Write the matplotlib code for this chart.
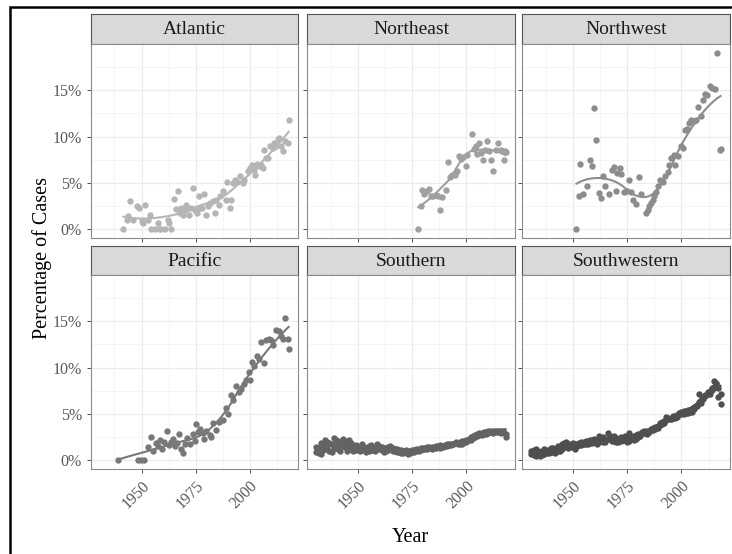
import numpy as np
import matplotlib.pyplot as plt
from matplotlib.patches import Rectangle

plt.rcParams['font.family'] = ['Liberation Serif', 'DejaVu Serif']

# yearly share of cases by region (%)
atlantic_year = [1941.6, 1943.1, 1943.9, 1944.9, 1946.2, 1947.7, 1948.9, 1950.0, 1950.8, 1951.8,
                 1953.1, 1953.8, 1954.6, 1956.1, 1957.7, 1957.9, 1959.2, 1960.8, 1962.3, 1962.8,
                 1963.8, 1964.9, 1966.1, 1966.9, 1967.7, 1968.4, 1969.2, 1970.4, 1970.7, 1972.0,
                 1973.0, 1973.8, 1974.6, 1975.7, 1976.6, 1976.9, 1978.1, 1978.7, 1979.6, 1980.7,
                 1981.8, 1983.0, 1983.8, 1984.6, 1985.8, 1986.4, 1987.6, 1988.9, 1989.6, 1990.7,
                 1991.5, 1992.5, 1993.0, 1994.1, 1995.6, 1996.9, 1997.6, 1999.2, 2000.0, 2001.2,
                 2001.8, 2002.7, 2003.3, 2004.5, 2005.3, 2006.1, 2006.8, 2007.6, 2008.4, 2009.4,
                 2010.7, 2011.4, 2012.2, 2012.9, 2013.7, 2014.5, 2015.6, 2016.5, 2017.6, 2018.0]
atlantic_pct = [0.0, 1.0, 1.44, 3.0, 1.0, 2.53, 2.27, 0.83, 0.72, 2.56,
                1.0, 1.55, 0.0, 0.0, 0.65, 0.0, 0.0, 0.0, 1.0, 0.65,
                0.0, 3.25, 2.16, 4.08, 1.73, 2.27, 1.55, 2.63, 2.09, 1.55,
                2.27, 4.44, 2.09, 1.73, 3.54, 2.27, 2.27, 3.82, 1.55, 2.45,
                2.81, 3.0, 1.73, 3.17, 2.63, 3.54, 4.08, 3.17, 5.09, 2.27,
                3.1, 4.98, 5.34, 5.05, 5.7, 4.98, 5.34, 6.24, 6.6, 6.96,
                6.42, 5.88, 7.07, 6.78, 6.96, 6.6, 8.59, 7.68, 7.68, 9.02,
                8.77, 9.31, 8.95, 9.74, 9.85, 8.95, 8.48, 9.49, 9.31, 11.83]

northeast_year = [1977.8, 1978.9, 1979.6, 1980.7, 1982.0, 1982.7, 1983.8, 1984.7, 1985.8, 1986.9,
                  1987.8, 1988.9, 1990.4, 1991.7, 1992.4, 1993.5, 1994.6, 1995.5, 1996.6, 1997.6,
                  1998.6, 1999.7, 2000.4, 2002.7, 2003.5, 2004.3, 2005.0, 2005.8, 2006.5, 2007.8,
                  2008.4, 2009.3, 2010.4, 2011.1, 2012.4, 2013.4, 2014.5, 2015.8, 2016.5, 2017.3,
                  2017.8, 2018.0]
northeast_pct = [0.0, 2.45, 4.18, 3.82, 4.08, 4.37, 3.54, 3.61, 3.72, 3.54,
                 2.09, 3.46, 4.26, 7.22, 5.63, 5.88, 5.88, 6.24, 7.86, 7.58,
                 7.79, 6.78, 8.04, 10.28, 8.66, 8.95, 8.15, 9.31, 8.23, 7.5,
                 8.59, 9.49, 8.41, 7.5, 6.24, 8.59, 9.31, 8.59, 8.41, 7.5,
                 8.41, 8.3]

northwest_year = [1951.7, 1952.8, 1953.5, 1954.8, 1956.6, 1957.9, 1959.0, 1959.7, 1960.6, 1962.0,
                  1962.8, 1964.0, 1964.7, 1966.7, 1968.2, 1969.0, 1969.8, 1970.5, 1971.8, 1972.4,
                  1973.6, 1974.8, 1975.8, 1976.7, 1977.9, 1979.0, 1980.6, 1981.6, 1983.6, 1984.4,
                  1985.2, 1986.0, 1986.7, 1987.5, 1988.3, 1989.4, 1990.3, 1991.4, 1992.4, 1993.7,
                  1994.4, 1995.2, 1996.5, 1997.1, 1998.3, 1999.8, 2000.6, 2001.7, 2002.6, 2003.7,
                  2004.5, 2005.7, 2006.8, 2007.6, 2008.8, 2009.9, 2011.0, 2011.9, 2013.0, 2014.0,
                  2015.3, 2016.5, 2017.6, 2018.0]
northwest_pct = [0.0, 3.61, 7.03, 3.82, 4.62, 7.43, 6.78, 13.1, 9.67, 3.9,
                 3.35, 5.7, 4.69, 3.82, 6.42, 6.71, 4.08, 6.06, 6.6, 5.99,
                 3.97, 4.08, 5.34, 3.97, 3.17, 2.74, 5.63, 3.82, 1.73, 2.09,
                 2.45, 2.81, 3.17, 3.54, 3.97, 4.62, 5.34, 5.05, 5.7, 6.13,
                 6.96, 7.68, 8.04, 6.96, 7.94, 9.02, 8.77, 10.68, 10.82, 11.47,
                 11.83, 11.65, 11.83, 13.2, 12.19, 14.0, 14.65, 14.54, 15.44, 15.26,
                 15.15, 19.05, 8.59, 8.66]

pacific_year = [1939.0, 1948.5, 1949.8, 1951.2, 1953.0, 1954.6, 1955.5, 1956.5, 1957.5, 1958.4,
                1959.5, 1960.5, 1961.8, 1962.8, 1963.7, 1964.6, 1965.6, 1966.5, 1967.4, 1968.3,
                1969.2, 1970.3, 1971.2, 1972.3, 1973.8, 1974.6, 1975.0, 1976.1, 1977.2, 1978.4,
                1979.1, 1980.0, 1981.5, 1982.2, 1983.0, 1984.6, 1985.8, 1987.6, 1988.9, 1989.9,
                1991.5, 1992.5, 1993.8, 1995.0, 1996.1, 1997.2, 1998.4, 1999.6, 2000.2, 2001.2,
                2002.2, 2003.3, 2004.2, 2005.3, 2006.4, 2007.6, 2008.8, 2009.9, 2010.7, 2012.2,
                2013.4, 2014.5, 2015.3, 2016.5, 2017.6, 2018.0]
pacific_pct = [0.0, 0.0, 0.0, 0.0, 1.4, 2.51, 1.0, 1.9, 1.5, 2.23,
               1.2, 2.0, 3.16, 1.6, 2.0, 2.33, 1.5, 1.9, 2.87, 1.2,
               0.8, 1.7, 2.4, 1.8, 2.87, 2.1, 3.95, 3.05, 3.41, 2.94,
               2.3, 3.16, 2.69, 2.5, 4.02, 3.23, 4.13, 4.31, 5.67, 5.03,
               7.0, 6.46, 7.97, 7.36, 7.72, 8.26, 8.69, 9.52, 8.62, 10.59,
               10.13, 11.2, 10.95, 12.75, 10.48, 13.0, 13.11, 12.93, 12.39, 14.08,
               13.93, 13.46, 13.11, 15.37, 13.11, 12.03]

# Southern and Southwestern have two readings per year
southern_year = list(range(1931, 2019))
southern_pct_a = [0.9, 1.3, 0.7, 1.6, 2.2, 1.2, 1.9, 0.9, 2.4, 1.5,
                  2.1, 1.0, 2.3, 1.4, 1.8, 2.2, 1.2, 1.5, 1.1, 1.4,
                  1.0, 1.7, 1.2, 0.9, 1.5, 1.1, 1.3, 1.0, 1.8, 1.2,
                  1.4, 0.9, 1.3, 1.1, 1.5, 1.0, 1.2, 0.9, 1.1, 0.8,
                  1.0, 0.9, 0.7, 1.0, 0.9, 1.1, 1.0, 1.2, 1.1, 1.3,
                  1.2, 1.4, 1.3, 1.2, 1.4, 1.3, 1.5, 1.3, 1.4, 1.6,
                  1.5, 1.7, 1.6, 1.8, 1.9, 1.7, 2.0, 1.8, 2.1, 2.0,
                  2.3, 2.2, 2.6, 2.5, 2.8, 2.7, 2.9, 2.8, 3.0, 2.9,
                  3.1, 2.9, 3.2, 3.0, 3.1, 3.2, 3.0, 2.5]
southern_pct_b = [1.4, 0.8, 1.9, 1.1, 1.5, 2.0, 1.0, 1.7, 1.3, 2.2,
                  1.2, 1.8, 1.5, 2.1, 1.0, 1.4, 1.9, 1.0, 1.6, 1.2,
                  1.5, 1.1, 1.4, 1.3, 1.0, 1.6, 1.1, 1.4, 1.2, 1.5,
                  1.1, 1.3, 1.0, 1.4, 1.2, 1.3, 1.0, 1.2, 0.9, 1.1,
                  0.8, 1.1, 1.0, 0.8, 1.1, 0.9, 1.2, 1.0, 1.3, 1.2,
                  1.3, 1.2, 1.4, 1.4, 1.3, 1.5, 1.4, 1.6, 1.5, 1.5,
                  1.7, 1.6, 1.8, 1.7, 2.0, 1.9, 1.8, 2.1, 2.0, 2.2,
                  2.2, 2.5, 2.4, 2.7, 2.6, 2.9, 2.7, 3.0, 2.8, 3.1,
                  3.0, 3.2, 3.0, 3.2, 3.0, 2.9, 3.2, 2.8]

southwestern_year = list(range(1931, 2019))
southwestern_pct_a = [1.0, 0.6, 1.2, 0.8, 0.5, 1.0, 0.7, 1.1, 0.8, 0.9,
                      1.3, 0.8, 1.0, 1.4, 1.2, 1.9, 1.6, 1.3, 1.8, 1.5,
                      1.2, 1.7, 1.9, 1.6, 2.0, 1.8, 2.1, 1.9, 2.2, 2.0,
                      1.8, 2.6, 2.4, 2.0, 2.2, 2.9, 2.3, 2.1, 2.6, 2.0,
                      2.3, 2.1, 2.4, 2.2, 2.0, 2.9, 2.5, 2.2, 2.7, 2.5,
                      2.8, 3.0, 2.9, 3.1, 3.2, 3.3, 3.5, 3.4, 3.7, 4.0,
                      3.9, 4.2, 4.7, 4.5, 4.4, 4.6, 4.8, 4.7, 5.0, 5.2,
                      5.0, 5.3, 5.1, 5.4, 5.2, 5.5, 5.9, 7.2, 6.5, 6.8,
                      7.0, 7.4, 7.5, 7.8, 8.6, 8.2, 6.8, 6.1]
southwestern_pct_b = [0.7, 1.1, 0.5, 1.0, 0.9, 0.6, 1.2, 0.8, 1.0, 1.3,
                      0.9, 1.2, 1.5, 1.0, 1.7, 1.4, 2.0, 1.7, 1.4, 1.9,
                      1.8, 1.5, 1.6, 2.0, 1.7, 2.1, 1.8, 2.2, 1.9, 2.3,
                      2.1, 2.0, 2.2, 2.5, 2.0, 2.3, 2.6, 2.2, 2.1, 2.4,
                      2.0, 2.5, 2.2, 2.6, 2.3, 2.1, 2.4, 2.6, 2.3, 2.8,
                      2.6, 2.9, 3.1, 2.8, 3.0, 3.4, 3.3, 3.6, 3.5, 3.8,
                      4.1, 4.0, 4.3, 4.6, 4.5, 4.8, 4.6, 4.9, 5.1, 5.0,
                      5.3, 5.1, 5.4, 5.2, 5.5, 5.7, 6.0, 6.3, 6.2, 6.6,
                      6.9, 7.2, 7.1, 7.6, 7.9, 8.3, 7.8, 7.2]

regions = ['Atlantic', 'Northeast', 'Northwest', 'Pacific', 'Southern', 'Southwestern']
years = [atlantic_year, northeast_year, northwest_year, pacific_year,
         southern_year + southern_year, southwestern_year + southwestern_year]
pcts = [atlantic_pct, northeast_pct, northwest_pct, pacific_pct,
        southern_pct_a + southern_pct_b, southwestern_pct_a + southwestern_pct_b]
greys = ['#b5b5b5', '#a0a0a0', '#8c8c8c', '#787878', '#636363', '#4f4f4f']


def loess(x, y, grid, span=0.75):
    k = int(np.ceil(span * len(x)))
    fit = []
    for g in grid:
        d = np.abs(x - g)
        h = np.sort(d)[k - 1]
        w = np.clip(1 - (d / h) ** 3, 0, None) ** 3
        A = np.vstack([np.ones_like(x), x - g, (x - g) ** 2]).T
        sw = np.sqrt(w)
        coef = np.linalg.lstsq(A * sw[:, None], y * sw, rcond=None)[0]
        fit.append(coef[0])
    return np.array(fit)


W, H = 732, 554
fig = plt.figure(figsize=(W / 100, H / 100), dpi=100)


def px_axes(x0, y0, x1, y1):
    return fig.add_axes([x0 / W, 1 - y1 / H, (x1 - x0) / W, (y1 - y0) / H])


cols = [(91, 298), (307, 515), (522, 730)]
rows = [(14, 44, 238), (246, 275, 469)]  # strip top, panel top, panel bottom

ymax = max(max(p) for p in pcts)
ylim = (-0.05 * ymax, 1.05 * ymax)
xlim = (1926.65, 2022.35)

for i, name in enumerate(regions):
    r, c = divmod(i, 3)
    x0, x1 = cols[c]
    st, pt, pb = rows[r]

    strip = px_axes(x0, st, x1, pt)
    strip.set_facecolor('#d9d9d9')
    strip.set_xticks([])
    strip.set_yticks([])
    for s in strip.spines.values():
        s.set_color('#555555')
        s.set_linewidth(0.8)
    strip.text(0.5, 0.47, name, ha='center', va='center', fontsize=14, color='#1a1a1a',
               transform=strip.transAxes)

    ax = px_axes(x0, pt, x1, pb)
    ax.set_xlim(*xlim)
    ax.set_ylim(*ylim)
    ax.set_xticks([1950, 1975, 2000])
    ax.set_xticks([1937.5, 1962.5, 1987.5, 2012.5], minor=True)
    ax.set_yticks([0, 5, 10, 15])
    ax.set_yticks([2.5, 7.5, 12.5, 17.5], minor=True)
    ax.grid(which='major', color='#ebebeb', linewidth=0.8)
    ax.grid(which='minor', color='#f2f2f2', linewidth=0.5)
    ax.set_axisbelow(True)
    for s in ax.spines.values():
        s.set_color('#8a8a8a')
        s.set_linewidth(0.8)
    ax.tick_params(which='major', length=3, width=0.6, color='#333333',
                   labelcolor='#5a5a5a', labelsize=11.5)
    ax.tick_params(which='minor', length=0)

    if c == 0:
        ax.set_yticklabels(['0%', '5%', '10%', '15%'])
    else:
        ax.tick_params(axis='y', labelleft=False)
    if r == 1:
        ax.set_xticklabels(['1950', '1975', '2000'], rotation=45, ha='right', va='top',
                           rotation_mode='anchor')
    else:
        ax.tick_params(axis='x', labelbottom=False)

    x = np.array(years[i], dtype=float)
    y = np.array(pcts[i], dtype=float)
    ax.scatter(x, y, s=21, color=greys[i], linewidths=0, zorder=3)
    grid = np.linspace(x.min(), x.max(), 100)
    ax.plot(grid, loess(x, y, grid), color=greys[i], linewidth=1.5, zorder=4)

fig.text(410 / W, 1 - 537 / H, 'Year', ha='center', va='center', fontsize=14.5)
fig.text(42 / W, 1 - 258 / H, 'Percentage of Cases', ha='center', va='center',
         rotation=90, fontsize=14.5)

# outer frame, open to the right and bottom
fig.patches.append(Rectangle((9.5 / W, -0.05), 1.1, 1 - 6.5 / H + 0.05,
                             transform=fig.transFigure, fill=False,
                             edgecolor='black', linewidth=1.8))

fig.savefig('out.png', dpi=100)
